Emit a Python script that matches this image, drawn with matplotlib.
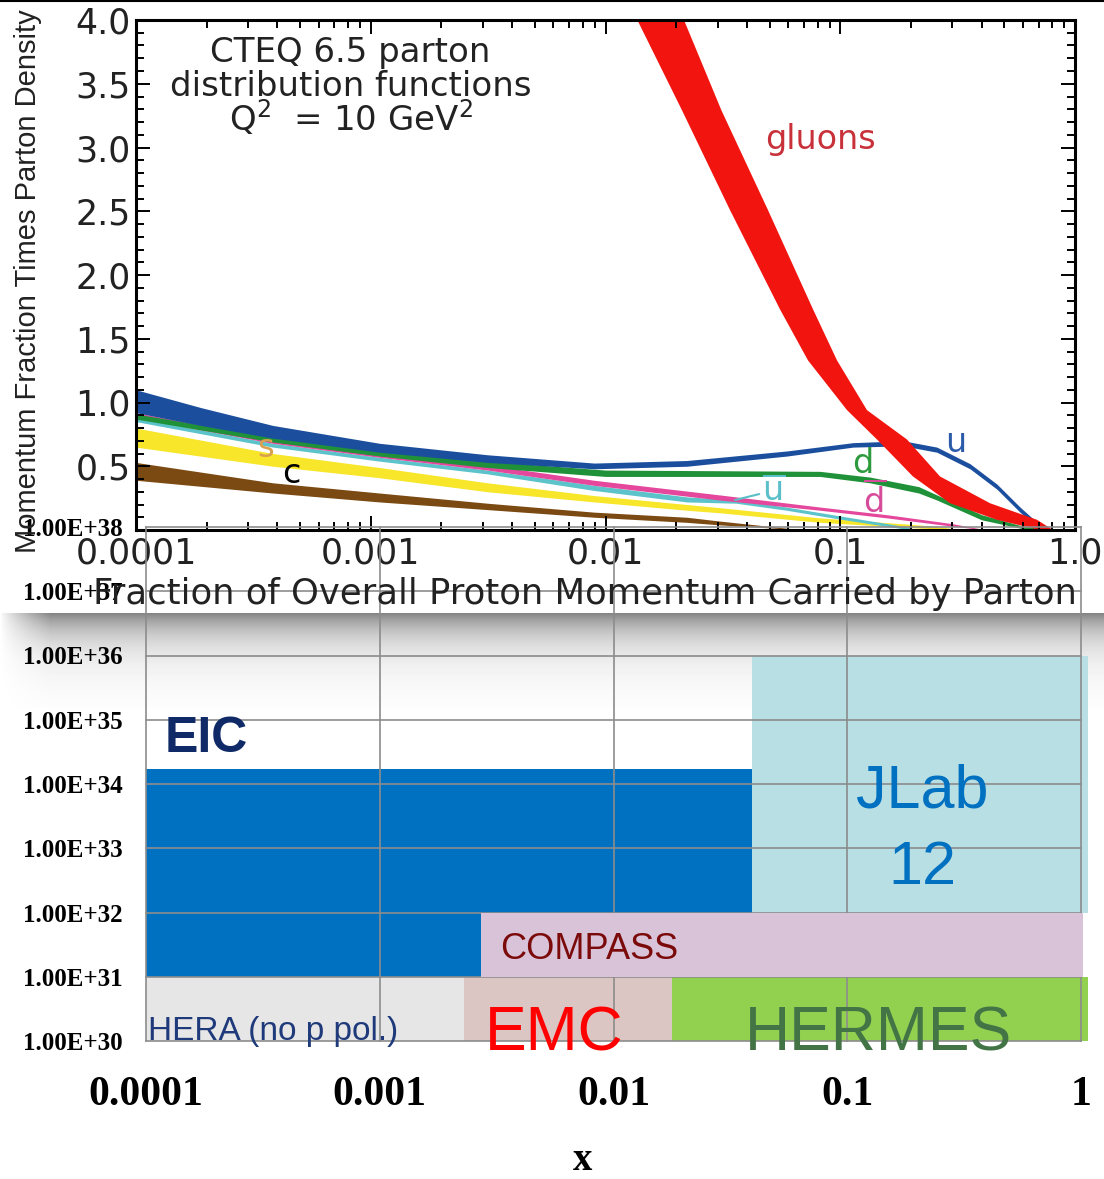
import numpy as np
import matplotlib
matplotlib.use("Agg")
import matplotlib.pyplot as plt
from matplotlib import font_manager
from matplotlib.ticker import FixedLocator, FuncFormatter, MultipleLocator, LogLocator, NullFormatter

plt.rcParams['font.family'] = ['DejaVu Sans']
plt.rcParams['mathtext.fontset'] = 'dejavusans'

W, H = 1104, 1179

# ------------------------------------------------------------------ CTEQ 6.5 bands (upper panel)
u_x  = [1e-4, 1.89e-4, 3.83e-4, 1.09e-3, 3.14e-3, 8.95e-3, 0.0222, 0.0593, 0.1133, 0.185,
        0.258, 0.357, 0.465, 0.583, 0.689, 0.8]
u_hi = [1.10, 0.96, 0.82, 0.68, 0.59, 0.525, 0.545, 0.62, 0.685, 0.70, 0.65, 0.52, 0.36, 0.18, 0.06, 0.0]
u_lo = [0.92, 0.82, 0.72, 0.61, 0.53, 0.48, 0.50, 0.58, 0.65, 0.66, 0.61, 0.48, 0.32, 0.14, 0.02, 0.0]

d_x  = [1e-4, 3.83e-4, 1.09e-3, 3.14e-3, 0.01, 0.03, 0.082, 0.134, 0.216, 0.258, 0.4, 0.6, 0.8]
d_hi = [0.91, 0.73, 0.62, 0.54, 0.47, 0.465, 0.46, 0.415, 0.34, 0.275, 0.12, 0.03, 0.0]
d_lo = [0.87, 0.69, 0.58, 0.49, 0.42, 0.42, 0.42, 0.37, 0.29, 0.235, 0.08, 0.01, 0.0]

dbar_x  = [1e-4, 3.83e-4, 1.09e-3, 3.14e-3, 8.95e-3, 0.0307, 0.082, 0.158, 0.30, 0.42]
dbar_hi = [0.92, 0.72, 0.61, 0.51, 0.39, 0.275, 0.18, 0.12, 0.05, 0.0]
dbar_lo = [0.88, 0.68, 0.57, 0.47, 0.35, 0.235, 0.155, 0.095, 0.03, 0.0]

ubar_x  = [1e-4, 3.83e-4, 1.09e-3, 3.14e-3, 8.95e-3, 0.0222, 0.036, 0.059, 0.1, 0.2]
ubar_hi = [0.88, 0.68, 0.57, 0.47, 0.35, 0.26, 0.235, 0.18, 0.11, 0.02]
ubar_lo = [0.85, 0.65, 0.54, 0.44, 0.31, 0.22, 0.21, 0.155, 0.085, 0.0]

s_x  = [1e-4, 3.83e-4, 1.09e-3, 3.14e-3, 8.95e-3, 0.0222, 0.0307, 0.082, 0.216, 0.35]
s_hi = [0.80, 0.60, 0.49, 0.37, 0.27, 0.20, 0.175, 0.095, 0.04, 0.0]
s_lo = [0.65, 0.50, 0.41, 0.30, 0.22, 0.155, 0.135, 0.06, 0.015, 0.0]

c_x  = [1e-4, 3.83e-4, 1.09e-3, 3.14e-3, 8.95e-3, 0.0222, 0.0307, 0.07]
c_hi = [0.53, 0.37, 0.29, 0.21, 0.14, 0.10, 0.07, 0.0]
c_lo = [0.39, 0.29, 0.22, 0.16, 0.10, 0.06, 0.04, 0.0]

# gluon band: left (upper) and right (lower) edges, read separately
g_hi_x = [0.010, 0.01375, 0.0212, 0.0339, 0.0554, 0.0729, 0.1069, 0.1434, 0.204, 0.2935, 0.465, 0.709]
g_hi   = [4.5, 3.99, 3.29, 2.51, 1.73, 1.33, 0.94, 0.71, 0.42, 0.21, 0.08, 0.0]
g_lo_x = [0.0168, 0.0217, 0.0312, 0.0492, 0.0766, 0.0969, 0.130, 0.1924, 0.266, 0.4345, 0.689, 0.806]
g_lo   = [4.5, 3.99, 3.29, 2.51, 1.73, 1.33, 0.94, 0.71, 0.42, 0.21, 0.08, 0.0]

pdf_xticks = [1e-4, 1e-3, 1e-2, 1e-1, 1.0]
pdf_xlabels = ['0.0001', '0.001', '0.01', '0.1', '1.0']
pdf_yticks = [0.5, 1.0, 1.5, 2.0, 2.5, 3.0, 3.5, 4.0]

# ------------------------------------------------------------------ luminosity coverage (lower panel)
exp_names = ['HERA', 'EMC', 'HERMES', 'EIC', 'COMPASS', 'JLab']
exp_xlo   = [1e-4, 0.0023, 0.0178, 1e-4, 0.0027, 0.039]
exp_xhi   = [0.0023, 0.0178, 1.07, 0.039, 1.02, 1.07]
exp_llo   = [1e30, 1e30, 1e30, 1e31, 1e31, 1e32]
exp_lhi   = [1e31, 1e31, 1e31, 1.7e34, 1e32, 1e36]
exp_col   = ['#e6e6e6', '#dcc6c3', '#92d050', '#0070c0', '#d9c3d8', '#b8dfe4']
exp_z     = [1, 1, 1, 1, 2.5, 1]

lum_xticks = [1e-4, 1e-3, 1e-2, 1e-1, 1.0]
lum_yticks = [10.0 ** k for k in range(30, 39)]

installed = {f.name for f in font_manager.fontManager.ttflist}
if 'Liberation Sans Narrow' in installed:
    ylab_font, ylab_size = ['Liberation Sans Narrow'], 25
else:
    ylab_font, ylab_size = ['Liberation Sans'], 21


def frac(l, t, r, b):
    return [l / W, 1 - b / H, (r - l) / W, (b - t) / H]


fig = plt.figure(figsize=(W / 100, H / 100), dpi=100)

# ------------------------------------------------------------------ background: drop shadow + top rule
ax_bg = fig.add_axes([0, 0, 1, 1], zorder=0)
ax_bg.set_xlim(0, W); ax_bg.set_ylim(H, 0); ax_bg.axis('off')
dy = np.arange(0, 95)[:, None]
dx = np.arange(0, W)[None, :]
fx = np.clip(dx / 50.0, 0, 1) ** 0.8
shade = 1 - 0.48 * np.exp(-dy / 25.0) * fx
ax_bg.imshow(shade, cmap='gray', vmin=0, vmax=1, extent=(0, W, 708, 613),
             aspect='auto', interpolation='bilinear')
ax_bg.plot([0, W], [0.8, 0.8], color='k', lw=1.5)

# ------------------------------------------------------------------ upper panel: CTEQ 6.5 PDFs
ax = fig.add_axes(frac(136, 20, 1075, 530), zorder=1)
ax.set_xscale('log')
ax.fill_between(c_x, c_lo, c_hi, color='#7b4a12', lw=0)
ax.fill_between(s_x, s_lo, s_hi, color='#f7e62a', lw=0)
ax.fill_between(ubar_x, ubar_lo, ubar_hi, color='#5cc3cb', lw=0)
ax.fill_between(dbar_x, dbar_lo, dbar_hi, color='#e4479c', lw=0)
ax.fill_between(d_x, d_lo, d_hi, color='#1f9138', lw=0)
ax.fill_between(u_x, u_lo, u_hi, color='#1b4f9e', lw=0)
ax.fill(np.concatenate([g_hi_x, g_lo_x[::-1]]), np.concatenate([g_hi, g_lo[::-1]]),
        color='#f2140f', lw=0)
ax.set_xlim(1e-4, 1.0); ax.set_ylim(0, 4)

ax.xaxis.set_major_locator(FixedLocator(pdf_xticks))
ax.set_xticklabels(pdf_xlabels)
ax.xaxis.set_minor_locator(LogLocator(base=10, subs=np.arange(2, 10)))
ax.xaxis.set_minor_formatter(NullFormatter())
ax.yaxis.set_major_locator(FixedLocator(pdf_yticks))
ax.yaxis.set_major_formatter(FuncFormatter(lambda v, p: '%.1f' % v))
ax.yaxis.set_minor_locator(MultipleLocator(0.1))
ax.tick_params(which='both', direction='in', top=True, right=True, width=1.4, colors='k',
               labelsize=25, labelcolor='#222222')
ax.tick_params(which='major', length=10)
ax.tick_params(which='minor', length=6)
ax.tick_params(axis='x', pad=5)
ax.tick_params(axis='y', pad=4)
for sp in ax.spines.values():
    sp.set_linewidth(2.2)

fs_t = 24.5
ax.text(8.2e-4, 3.67, 'CTEQ 6.5 parton', ha='center', va='baseline', fontsize=fs_t, color='#222222')
ax.text(8.2e-4, 3.40, 'distribution functions', ha='center', va='baseline', fontsize=fs_t, color='#222222')
ax.text(8.2e-4, 3.13, r'Q$^2$  = 10 GeV$^2$', ha='center', va='baseline', fontsize=fs_t, color='#222222')
ax.text(0.0479, 2.99, 'gluons', ha='left', va='baseline', fontsize=24, color='#c9313a')
ax.text(0.279, 0.61, 'u', ha='left', va='baseline', fontsize=24, color='#2a5aa8')
ax.text(0.112, 0.447, 'd', ha='left', va='baseline', fontsize=24, color='#2e9a3e')
ax.text(0.125, 0.14, r'$\overline{\mathrm{d}}$', ha='left', va='baseline', fontsize=24, color='#d64c9b')
ax.annotate(r'$\overline{\mathrm{u}}$', xy=(0.0356, 0.235), xytext=(0.0464, 0.235),
            ha='left', va='baseline', fontsize=24, color='#5abfc8',
            arrowprops=dict(arrowstyle='-', color='#5abfc8', lw=1.5, shrinkA=0, shrinkB=0))
ax.text(3.3e-4, 0.57, 's', ha='left', va='baseline', fontsize=23, color='#d9a050')
ax.text(4.2e-4, 0.37, 'c', ha='left', va='baseline', fontsize=24, color='k')

fig.text(28 / W, 1 - 281 / H, 'Momentum Fraction Times Parton Density', rotation=90,
         ha='center', va='center', fontsize=ylab_size, family=ylab_font, color='#222222')
fig.text(585 / W, 1 - 594 / H, 'Fraction of Overall Proton Momentum Carried by Parton',
         ha='center', va='center', fontsize=25.5, color='#222222')

# ------------------------------------------------------------------ lower panel: luminosity vs x
ax2 = fig.add_axes(frac(146, 527, 1081, 1041), zorder=2)
ax2.patch.set_alpha(0)
ax2.set_xscale('log'); ax2.set_yscale('log')
for x0, x1, l0, l1, col, z in zip(exp_xlo, exp_xhi, exp_llo, exp_lhi, exp_col, exp_z):
    ax2.bar(x0, l1 - l0, width=x1 - x0, bottom=l0, align='edge', color=col, lw=0,
            zorder=z, clip_on=False)
ax2.set_xlim(1e-4, 1.0); ax2.set_ylim(1e30, 1e38)
ax2.xaxis.set_major_locator(FixedLocator(lum_xticks))
ax2.yaxis.set_major_locator(FixedLocator(lum_yticks))
ax2.xaxis.set_minor_locator(FixedLocator([]))
ax2.yaxis.set_minor_locator(FixedLocator([]))
ax2.xaxis.set_major_formatter(FuncFormatter(lambda v, p: '%g' % v))
ax2.yaxis.set_major_formatter(FuncFormatter(lambda v, p: '%.2E' % v))
ax2.grid(True, which='major', color='#8c8c8c', lw=1.2, zorder=2)
for gl in ax2.get_xgridlines() + ax2.get_ygridlines():
    gl.set_clip_on(False)
for sp in ax2.spines.values():
    sp.set_visible(False)
ax2.tick_params(length=0)
for lab in ax2.get_yticklabels():
    lab.set_fontfamily('Liberation Serif'); lab.set_fontweight('bold'); lab.set_fontsize(18)
for lab in ax2.get_xticklabels():
    lab.set_fontfamily('Liberation Serif'); lab.set_fontweight('bold'); lab.set_fontsize(30)
ax2.tick_params(axis='y', pad=16.5)
ax2.tick_params(axis='x', pad=25)
fig.text(583 / W, 1 - 1170 / H, 'x', ha='center', va='baseline',
         family='Liberation Serif', fontweight='bold', fontsize=28)

sans = ['Liberation Sans', 'DejaVu Sans']
ax2.text(1.2e-4, 3.15e34, 'EIC', ha='left', va='baseline', fontsize=36, fontweight='bold',
         color='#0f2a66', family=sans, zorder=5)
ax2.text(0.21, 4.3e33, 'JLab', ha='center', va='baseline', fontsize=44, color='#0070c0',
         family=sans, zorder=5)
ax2.text(0.21, 2.8e32, '12', ha='center', va='baseline', fontsize=44, color='#0070c0',
         family=sans, zorder=5)
ax2.text(0.00328, 1.9e31, 'COMPASS', ha='left', va='baseline', fontsize=26, color='#7b0a0a',
         family=sans, zorder=5)
ax2.text(1.02e-4, 1.04e30, 'HERA (no p pol.)', ha='left', va='baseline', fontsize=24,
         color='#1f3a7a', family=sans, zorder=5)
ax2.text(0.00282, 7.2e29, 'EMC', ha='left', va='baseline', fontsize=45, color='#ff0000',
         family=sans, zorder=5)
ax2.text(0.0365, 7.2e29, 'HERMES', ha='left', va='baseline', fontsize=45, color='#437446',
         family=sans, zorder=5)

fig.savefig('out.png', dpi=100)
